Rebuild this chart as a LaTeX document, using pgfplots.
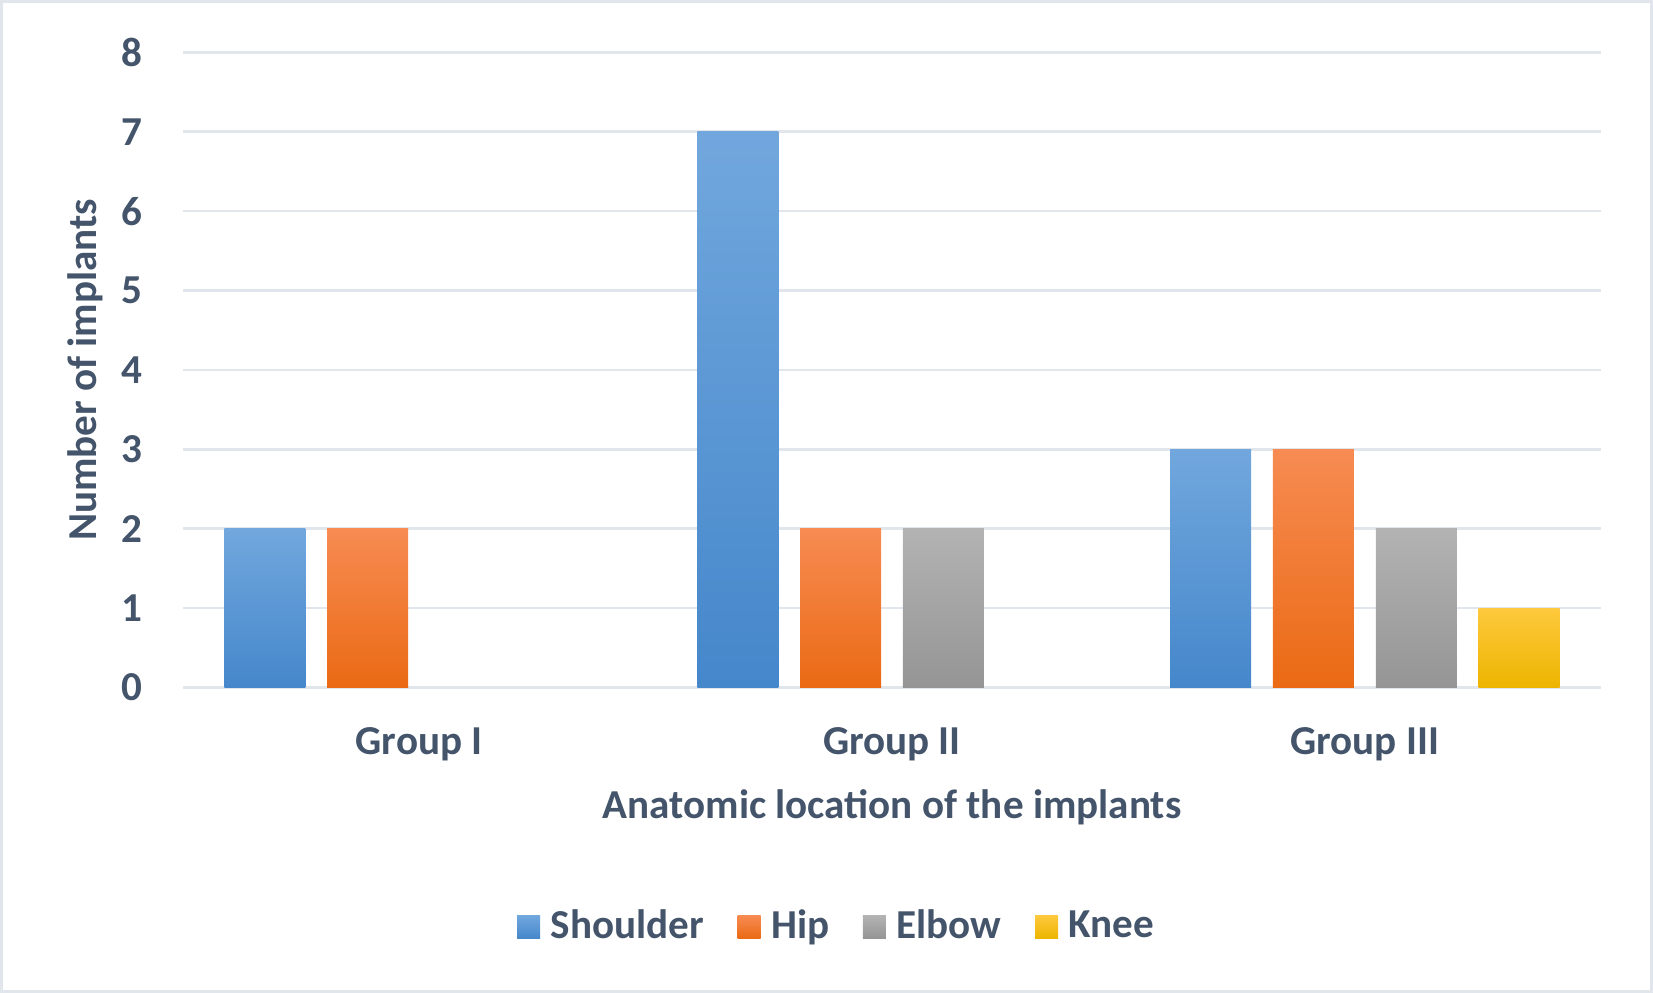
\documentclass[border=0pt]{standalone}
\usepackage{pgfplots}
\pgfplotsset{compat=1.18}
\usepackage{fontspec}
\setmainfont{Carlito}
\definecolor{txt}{HTML}{44546A}
\definecolor{gridc}{HTML}{E1E5EC}
\definecolor{bord}{HTML}{E1E5EC}
\definecolor{bT}{HTML}{71A7DD}\definecolor{bM}{HTML}{5A9DE0}\definecolor{bB}{HTML}{4587CB}
\definecolor{oT}{HTML}{F78B52}\definecolor{oM}{HTML}{FD7E25}\definecolor{oB}{HTML}{EA6A14}
\definecolor{gT}{HTML}{B3B3B3}\definecolor{gM}{HTML}{A8A8A8}\definecolor{gB}{HTML}{959595}
\definecolor{yT}{HTML}{FEC93D}\definecolor{yM}{HTML}{FFC501}\definecolor{yB}{HTML}{EDB500}
\newcommand{\lf}{\fontsize{11.7}{14}\selectfont\bfseries}
\pgfplotsset{
  sh/.style={draw=none, top color=bT, middle color=bM, bottom color=bB, bar shift=-15.42mm,
    legend image code/.code={\path[top color=bT, middle color=bM, bottom color=bB] (0mm,-1.15mm) rectangle (2.3mm,1.15mm);}},
  hi/.style={draw=none, top color=oT, middle color=oM, bottom color=oB, bar shift=-5.14mm,
    legend image code/.code={\path[top color=oT, middle color=oM, bottom color=oB] (0mm,-1.15mm) rectangle (2.3mm,1.15mm);}},
  el/.style={draw=none, top color=gT, middle color=gM, bottom color=gB, bar shift=5.14mm,
    legend image code/.code={\path[top color=gT, middle color=gM, bottom color=gB] (0mm,-1.15mm) rectangle (2.3mm,1.15mm);}},
  kn/.style={draw=none, top color=yT, middle color=yM, bottom color=yB, bar shift=15.42mm,
    legend image code/.code={\path[top color=yT, middle color=yM, bottom color=yB] (0mm,-1.15mm) rectangle (2.3mm,1.15mm);}},
}
\begin{document}
\begin{tikzpicture}
\useasboundingbox (-18.27mm,-30.55mm) rectangle (147.03mm,68.75mm);
\draw[bord, line width=0.3mm] (-18.12mm,-30.40mm) rectangle (146.88mm,68.60mm);
\begin{axis}[
  scale only axis,
  width=141.86mm, height=63.52mm,
  at={(0,0)}, anchor=south west,
  ybar, bar width=8.1mm,
  xmin=-0.5, xmax=2.5, ymin=0, ymax=8,
  xtick={0,1,2}, xticklabels={Group I, Group II, Group III},
  ytick={0,1,...,8},
  axis line style={draw=none},
  major tick length=0pt,
  ymajorgrids, grid style={gridc, line width=0.27mm},
  /pgf/number format/assume math mode=true,
  tick label style={font=\lf, text=txt},
  yticklabel style={anchor=east, inner sep=0pt, xshift=-4mm},
  xticklabel style={anchor=base, inner sep=0pt, yshift=-6.75mm},
  label style={font=\lf, text=txt},
  xlabel={Anatomic location of the implants},
  xlabel style={at={(axis description cs:0.5,-0.2070)}, anchor=base, inner sep=0pt},
  ylabel={Number of implants},
  ylabel style={at={(axis description cs:-0.06062,0.5)}, anchor=base, inner sep=0pt, rotate=0},
  legend style={at={(axis description cs:0.4628,-0.3770)}, anchor=center, draw=none, fill=none,
    inner sep=0pt, font=\lf, text=txt, legend columns=4,
    /tikz/every odd column/.append style={column sep=0.37mm},
    /tikz/every even column/.append style={column sep=2.65mm}},
  legend cell align=left,
]
% Shoulder
\addplot[sh] coordinates {(0,2)};
\addlegendentry{Shoulder}
% Hip
\addplot[hi] coordinates {(0,2)};
\addlegendentry{Hip}
% Elbow
\addplot[el] coordinates {(1,2)};
\addlegendentry{Elbow}
% Knee
\addplot[kn] coordinates {(2,1)};
\addlegendentry{Knee}
% remaining bars, one per plot so each has its own gradient
\addplot[sh, forget plot] coordinates {(1,7)};
\addplot[sh, forget plot] coordinates {(2,3)};
\addplot[hi, forget plot] coordinates {(1,2)};
\addplot[hi, forget plot] coordinates {(2,3)};
\addplot[el, forget plot] coordinates {(2,2)};
\end{axis}
\end{tikzpicture}
\end{document}
